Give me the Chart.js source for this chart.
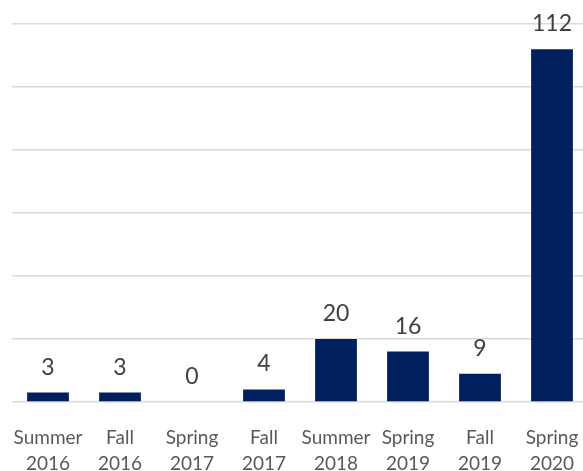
<!DOCTYPE html>
<html>
<head>
<meta charset="utf-8">
<script src="https://cdn.jsdelivr.net/npm/chart.js@4"></script>
<style>
html,body{margin:0;padding:0;background:#fff;overflow:hidden;}
#wrap{width:588px;height:471px;position:relative;}
</style>
</head>
<body>
<div id="wrap"><canvas id="c"></canvas></div>
<script>
const categories = [["Summer","2016"],["Fall","2016"],["Spring","2017"],["Fall","2017"],["Summer","2018"],["Spring","2019"],["Fall","2019"],["Spring","2020"]];
const values = [3,3,0,4,20,16,9,112];
const yTicks = [0,20,40,60,80,100,120];

const FONT = 'Lato, "Liberation Sans Narrow", sans-serif';

const labelPlugin = {
  id:'barLabels',
  afterDatasetsDraw(chart){
    const ctx = chart.ctx;
    const meta = chart.getDatasetMeta(0);
    ctx.save();
    ctx.font = '23px ' + FONT;
    ctx.fillStyle = '#404040';
    ctx.textAlign = 'center';
    ctx.textBaseline = 'alphabetic';
    meta.data.forEach((bar,i)=>{
      ctx.fillText(String(values[i]), bar.x, bar.y - 18);
    });
    ctx.restore();
  }
};

new Chart(document.getElementById('c'),{
  type:'bar',
  data:{labels:categories,datasets:[{data:values,backgroundColor:'#002060',categoryPercentage:1,barPercentage:0.58}]},
  options:{
    responsive:true,maintainAspectRatio:false,animation:false,
    layout:{autoPadding:false,padding:{left:12,right:0,top:24,bottom:0}},
    plugins:{legend:{display:false},tooltip:{enabled:false}},
    scales:{
      x:{grid:{display:false,drawTicks:false},border:{display:false},
         afterFit(s){s.height=69;s.paddingLeft=0;s.paddingRight=0;},
         ticks:{color:'#595959',padding:23,font:{size:19,family:FONT,lineHeight:1.35},maxRotation:0,autoSkip:false}},
      y:{min:0,max:120,afterBuildTicks(s){s.ticks=yTicks.map(v=>({value:v}));},
         afterFit(s){s.width=0;},
         grid:{color:'#d9d9d9',lineWidth:1.5,drawTicks:false},border:{display:false},
         ticks:{display:false}}
    }
  },
  plugins:[labelPlugin]
});
</script>
</body>
</html>
